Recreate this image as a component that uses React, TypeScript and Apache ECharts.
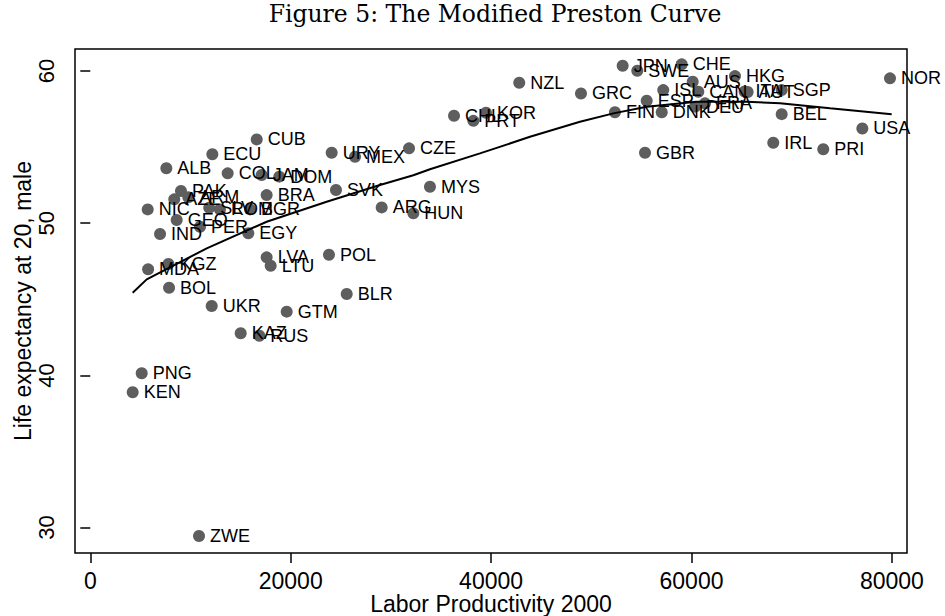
import React, { useEffect, useRef } from "react";
import * as echarts from "echarts";

const countries = ["ZWE","KEN","PNG","MDA","KGZ","BOL","UKR","KAZ","RUS","GTM","LVA","LTU","POL","BLR","IND","NIC","GEO","PER","EGY","AZE","ARM","PAK","ALB","ECU","COL","JAM","DOM","CUB","BRA","SLV","ROM","BGR","URY","MEX","SVK","CZE","MYS","ARG","HUN","CHL","KOR","PRT","NZL","GRC","JPN","SWE","CHE","AUS","HKG","NOR","ISL","CAN","ITA","AUT","SGP","ESP","FIN","DNK","FRA","DEU","BEL","USA","IRL","PRI","GBR"];
const productivity = [10850,4230,5130,5770,7800,7860,12115,15010,16870,19600,17600,18000,23820,25590,6960,5730,8620,10950,15770,8380,9780,9050,7590,12180,13710,17100,18860,16610,17600,11870,12940,15940,24090,26420,24520,31810,33900,29080,32240,36300,39490,38230,42810,48970,53130,54590,59020,60120,64340,79810,57180,60680,65300,65600,69000,55530,52360,57030,61350,60350,69000,77050,68160,73150,55360];
const lifeExpectancy = [29.45,38.89,40.14,46.97,47.32,45.76,44.56,42.77,42.61,44.19,47.76,47.21,47.93,45.35,49.29,50.91,50.21,49.77,49.34,51.57,51.70,52.12,53.61,54.53,53.28,53.17,53.06,55.51,51.85,51.02,50.91,50.91,54.63,54.37,52.18,54.92,52.40,51.04,50.65,57.06,57.26,56.73,59.23,58.53,60.35,60.02,60.44,59.30,59.67,59.52,58.75,58.64,58.66,58.62,58.75,58.05,57.29,57.29,57.88,57.66,57.17,56.23,55.29,54.86,54.63];

const fitX = [4230,5630,11620,17600,23590,28910,32240,33900,38890,43880,48870,52200,55530,60520,65510,68830,73820,79980];
const fitY = [45.43,46.31,48.35,50.10,51.41,52.51,53.15,53.55,54.59,55.68,56.67,57.22,57.65,57.98,57.98,57.88,57.55,57.16];

const xTicks = [0, 20000, 40000, 60000, 80000];
const yTicks = [30, 40, 50, 60];

const SANS = "'Liberation Sans', Arial, Helvetica, sans-serif";

export default function App() {
  const ref = useRef<HTMLDivElement>(null);
  useEffect(() => {
    if (!ref.current) return;
    const chart = echarts.init(ref.current, null, { renderer: "svg" });
    const points = countries.map((c, i) => ({ name: c, value: [productivity[i], lifeExpectancy[i]] }));
    const fit = fitX.map((x, i) => [x, fitY[i]]);
    chart.setOption({
      animation: false,
      backgroundColor: "#ffffff",
      grid: { left: 75, right: 38, top: 49, bottom: 63, outerBoundsMode: "none", containLabel: false, show: true, borderColor: "#000", borderWidth: 1.5, backgroundColor: "transparent" },
      graphic: [
        { type: "text", x: 495, y: 14, style: { text: "Figure 5: The Modified Preston Curve", font: "23.5px 'DejaVu Serif', 'Liberation Serif', serif", fill: "#000", textAlign: "center", textVerticalAlign: "middle" } },
      ],
      xAxis: {
        type: "value", min: -1527, max: 81507,
        name: "Labor Productivity 2000", nameLocation: "middle", nameGap: 39, nameMoveOverlap: false,
        nameTextStyle: { fontFamily: SANS, fontSize: 23, color: "#000" },
        axisLine: { show: false },
        axisTick: { show: true, customValues: xTicks, length: 10, lineStyle: { color: "#000", width: 1.5 } },
        axisLabel: { customValues: xTicks, formatter: (v: number) => String(v), fontFamily: SANS, fontSize: 23, color: "#000", margin: 16 },
        splitLine: { show: false },
      },
      yAxis: {
        type: "value", min: 28.33, max: 61.45,
        name: "Life expectancy at 20, male", nameLocation: "middle", nameGap: 41, nameMoveOverlap: false,
        nameTextStyle: { fontFamily: SANS, fontSize: 23, color: "#000" },
        axisLine: { show: false },
        axisTick: { show: true, customValues: yTicks, length: 10, lineStyle: { color: "#000", width: 1.5 } },
        axisLabel: { customValues: yTicks, formatter: (v: number) => String(v), rotate: 90, fontFamily: SANS, fontSize: 22, color: "#000", margin: 18 },
        splitLine: { show: false },
      },
      series: [
        {
          type: "scatter", data: points, symbolSize: 12, clip: false,
          itemStyle: { color: "#5e5e5e", opacity: 1 },
          label: { show: true, position: "right", distance: 5, formatter: "{b}", fontFamily: SANS, fontSize: 18, color: "#000" },
          labelLayout: { hideOverlap: false },
          z: 2,
        },
        {
          type: "line", data: fit, showSymbol: false, symbol: "none",
          lineStyle: { color: "#000", width: 2 }, z: 3,
        },
      ],
    });
    return () => chart.dispose();
  }, []);
  return <div ref={ref} style={{ position: "fixed", left: 0, top: 0, width: 945, height: 616 }} />;
}
